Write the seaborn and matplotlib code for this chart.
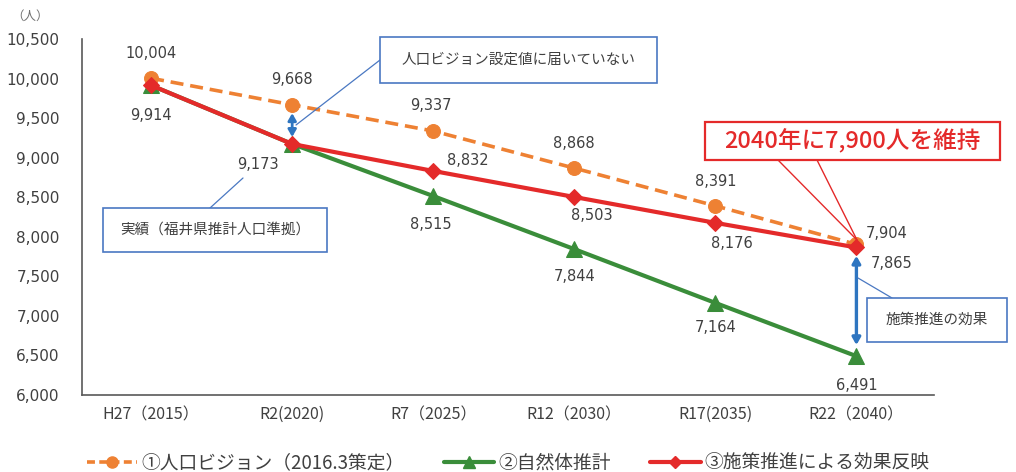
import matplotlib
matplotlib.use("Agg")
import matplotlib.pyplot as plt
from matplotlib.patches import Rectangle
from matplotlib.lines import Line2D
import seaborn as sns
import pandas as pd

# ---- data -------------------------------------------------------------
periods = ["H27（2015）", "R2(2020)", "R7（2025）", "R12（2030）", "R17(2035)", "R22（2040）"]
vision = [10004, 9668, 9337, 8868, 8391, 7904]          # ①人口ビジョン（2016.3策定）
natural = [9914, 9173, 8515, 7844, 7164, 6491]          # ②自然体推計
policy = [9914, 9173, 8832, 8503, 8176, 7865]           # ③施策推進による効果反映
series_names = ["①人口ビジョン（2016.3策定）", "②自然体推計", "③施策推進による効果反映"]
yticks = [6000, 6500, 7000, 7500, 8000, 8500, 9000, 9500, 10000, 10500]

# label offsets in pixels (dx, dy) relative to each point
vision_off = [(0, 25), (0, 25), (-2, 26), (0, 25), (0, 24), (30, 11)]
natural_off = [None, None, (-2, -28), (0, -27), (0, -25), (0, -29)]
policy_off = [(0, -30), (-34, -21), (35, 10), (18, -19), (17, -21), (35, -16)]

JP = ["Noto Sans CJK JP", "DejaVu Sans"]
TXT = "#404040"
ORANGE = "#EE8133"
GREEN = "#3A8D3A"
RED = "#E42A2A"
BLUE = "#2E75C0"
BOXBLUE = "#4A78C2"

sns.set_theme(style="white")
plt.rcParams["font.family"] = ["DejaVu Sans"]

W, H = 1016, 472
fig = plt.figure(figsize=(W / 100, H / 100), dpi=100)
ax = fig.add_axes([82 / W, 1 - 395 / H, 852 / W, (395 - 39) / H])

x = list(range(len(periods)))
df = pd.DataFrame({"x": x, "vision": vision, "natural": natural, "policy": policy})

sns.lineplot(data=df, x="x", y="natural", ax=ax, color=GREEN, lw=3.0,
             marker="^", markersize=11, markeredgecolor=GREEN, label=series_names[1], zorder=3)
sns.lineplot(data=df, x="x", y="vision", ax=ax, color=ORANGE, lw=2.6,
             marker="o", markersize=10, markeredgecolor=ORANGE, label=series_names[0], zorder=4)
ax.lines[-1].set_dashes((3.6, 1.9))
sns.lineplot(data=df, x="x", y="policy", ax=ax, color=RED, lw=3.0,
             marker="D", markersize=8, markeredgecolor=RED, label=series_names[2], zorder=5)
ax.get_legend().remove()

# axes
ax.set_xlim(-0.49, 5.55)
ax.set_ylim(6000, 10500)
ax.set_xlabel("")
ax.set_ylabel("")
ax.set_yticks(yticks)
ax.set_yticklabels([f"{v:,}" for v in yticks], fontsize=11, color=TXT)
ax.set_xticks([0.5, 1.5, 2.5, 3.5, 4.5, 5.55])
ax.set_xticklabels([])
ax.set_xticks(x, minor=True)
ax.set_xticklabels(periods, minor=True, fontsize=11.5, color=TXT, family=JP)
ax.tick_params(axis="x", which="major", direction="in", length=5, width=1, color="#595959")
ax.tick_params(axis="x", which="minor", length=0, pad=8)
ax.tick_params(axis="y", direction="in", length=5, width=1, color="#595959", pad=16)
for s in ["top", "right"]:
    ax.spines[s].set_visible(False)
for s in ["left", "bottom"]:
    ax.spines[s].set_color("#595959")
    ax.spines[s].set_linewidth(1.2)
ax.grid(False)

fig.text(30 / W, 1 - 16 / H, "（人）", fontsize=9, color="#707070", family=JP,
         ha="center", va="center")

# value labels
def put_labels(vals, offs):
    for i, (v, o) in enumerate(zip(vals, offs)):
        if o is None:
            continue
        ax.annotate(f"{v:,}", (i, v), xytext=o, textcoords="offset pixels",
                    ha="center", va="center", fontsize=10.5, color=TXT, zorder=6)

put_labels(vision, vision_off)
put_labels(natural, natural_off)
put_labels(policy, policy_off)

# gap arrows
ax.annotate("", xy=(1, vision[1]), xytext=(1, policy[1]),
            arrowprops=dict(arrowstyle="<|-|>,head_length=0.35,head_width=0.2",
                            color=BLUE, lw=2, shrinkA=5, shrinkB=6), zorder=6)
ax.annotate("", xy=(5, policy[5]), xytext=(5, natural[5]),
            arrowprops=dict(arrowstyle="<|-|>,head_length=0.35,head_width=0.2",
                            color=BLUE, lw=2.4, shrinkA=8, shrinkB=6), zorder=6)

# callout boxes (pixel coordinates on the figure)
def fx(px):
    return px / W

def fy(py):
    return 1 - py / H

def box(x0, y0, x1, y1, text, edge, lw=1.2, **kw):
    fig.patches.append(Rectangle((fx(x0), fy(y1)), fx(x1) - fx(x0), fy(y0) - fy(y1),
                                 transform=fig.transFigure, facecolor="white",
                                 edgecolor=edge, lw=lw, zorder=10))
    fig.text(fx((x0 + x1) / 2), fy((y0 + y1) / 2), text, ha="center", va="center",
             family=JP, zorder=11, **kw)

def leader(x0, y0, x1, y1, color, lw=0.9):
    fig.lines.append(Line2D([fx(x0), fx(x1)], [fy(y0), fy(y1)], transform=fig.transFigure,
                            color=color, lw=lw, zorder=9))

leader(380, 60, 296, 125, BOXBLUE)
box(380, 37, 657, 83, "人口ビジョン設定値に届いていない", BOXBLUE, fontsize=10.5, color=TXT)

leader(210, 208, 243, 178, BOXBLUE)
box(103, 208, 327, 252, "実績（福井県推計人口準拠）", BOXBLUE, fontsize=10.5, color=TXT)

leader(892, 298, 858, 278, BOXBLUE)
box(867, 298, 1007, 342, "施策推進の効果", BOXBLUE, fontsize=10.5, color=TXT)

leader(778, 160, 857, 240, RED, lw=1.0)
leader(817, 160, 857, 240, RED, lw=1.0)
box(705, 122, 1000, 160, "2040年に7,900人を維持", RED, lw=1.6,
    fontsize=17, color=RED, fontweight="medium")

# legend
handles = [
    Line2D([], [], color=ORANGE, lw=2.6, dashes=(2.2, 1.2), marker="o", markersize=8),
    Line2D([], [], color=GREEN, lw=3.0, marker="^", markersize=9),
    Line2D([], [], color=RED, lw=3.0, marker="D", markersize=6),
]
fig.legend(handles, series_names, loc="center", bbox_to_anchor=(0.5, 1 - 463 / H),
           ncol=3, frameon=False, handlelength=2.7, handletextpad=0.2,
           columnspacing=2.1, prop={"family": JP, "size": 13.5}, labelcolor=TXT)

fig.savefig("out.png", dpi=100, facecolor="white")
